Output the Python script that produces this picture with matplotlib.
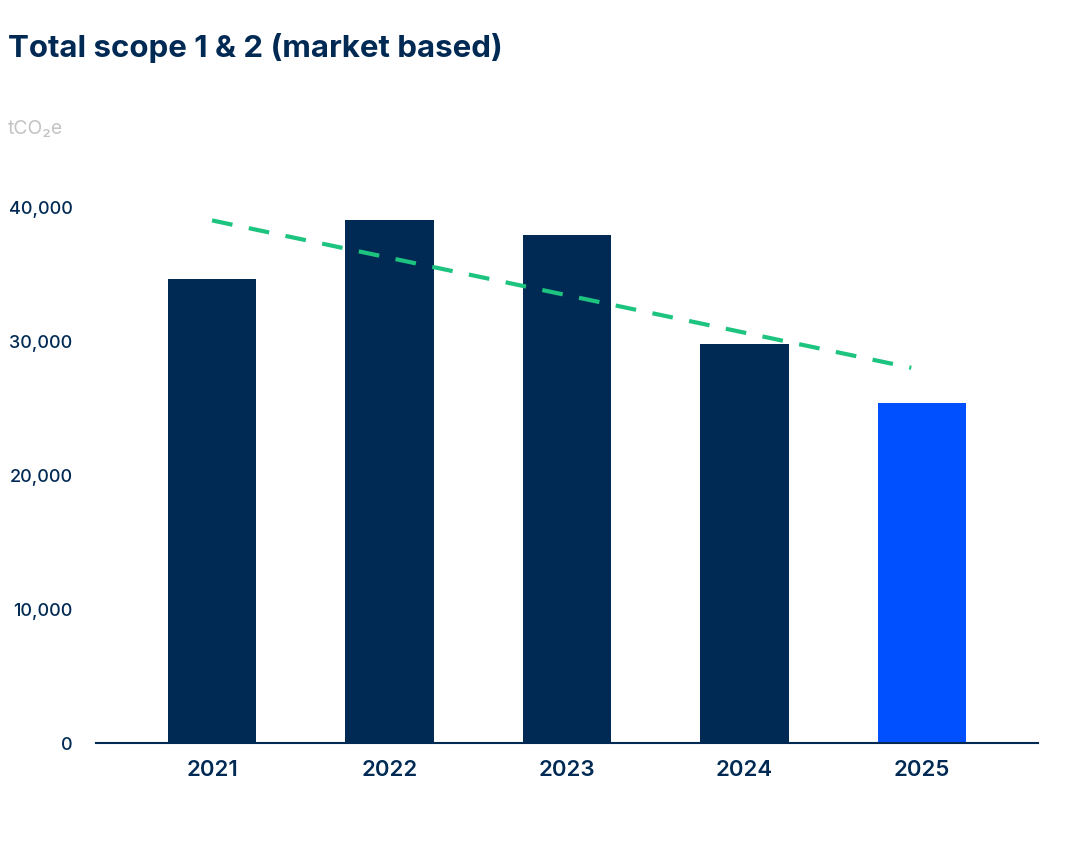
import matplotlib.pyplot as plt

years = ['2021', '2022', '2023', '2024', '2025']
emissions = [34600, 39000, 37900, 29800, 25400]
trend_x = [0, 3.94]
trend_y = [39000, 28000]
y_ticks = [0, 10000, 20000, 30000, 40000]
y_tick_labels = ['0', '10,000', '20,000', '30,000', '40,000']

navy = '#002A54'
blue = '#0050FF'
green = '#1DC47F'

plt.rcParams['font.family'] = ['Inter', 'DejaVu Sans']

fig = plt.figure(figsize=(10.8, 8.64), dpi=100)
ax = fig.add_axes([0.0889, 0.1400, 0.8722, 0.6285])

colors = [navy] * 4 + [blue]
ax.bar(range(len(years)), emissions, width=0.5, color=colors, zorder=2)
ax.plot(trend_x, trend_y, color=green, lw=3, dashes=(5, 4), zorder=3)

ax.set_xlim(-0.654, 4.654)
ax.set_ylim(0, 40522)
ax.set_xticks(range(len(years)))
ax.set_xticklabels(years, fontsize=16, fontweight='semibold', color=navy)
ax.set_yticks(y_ticks)
ax.set_yticklabels(y_tick_labels, fontsize=13, fontweight='medium', color=navy)
ax.tick_params(axis='both', length=0)
ax.tick_params(axis='x', pad=12)
ax.tick_params(axis='y', pad=17)

for s in ['top', 'right', 'left']:
    ax.spines[s].set_visible(False)
ax.spines['bottom'].set_color(navy)
ax.spines['bottom'].set_linewidth(1.5)

fig.text(0.0074, 0.945, 'Total scope 1 & 2 (market based)', fontsize=22.5,
         fontweight='bold', color=navy, va='center', ha='left')
fig.text(0.0074, 0.851, 'tCO₂e', fontsize=14, color='#C4C4C4',
         va='center', ha='left')

fig.savefig('out.png', dpi=100, facecolor='white')
